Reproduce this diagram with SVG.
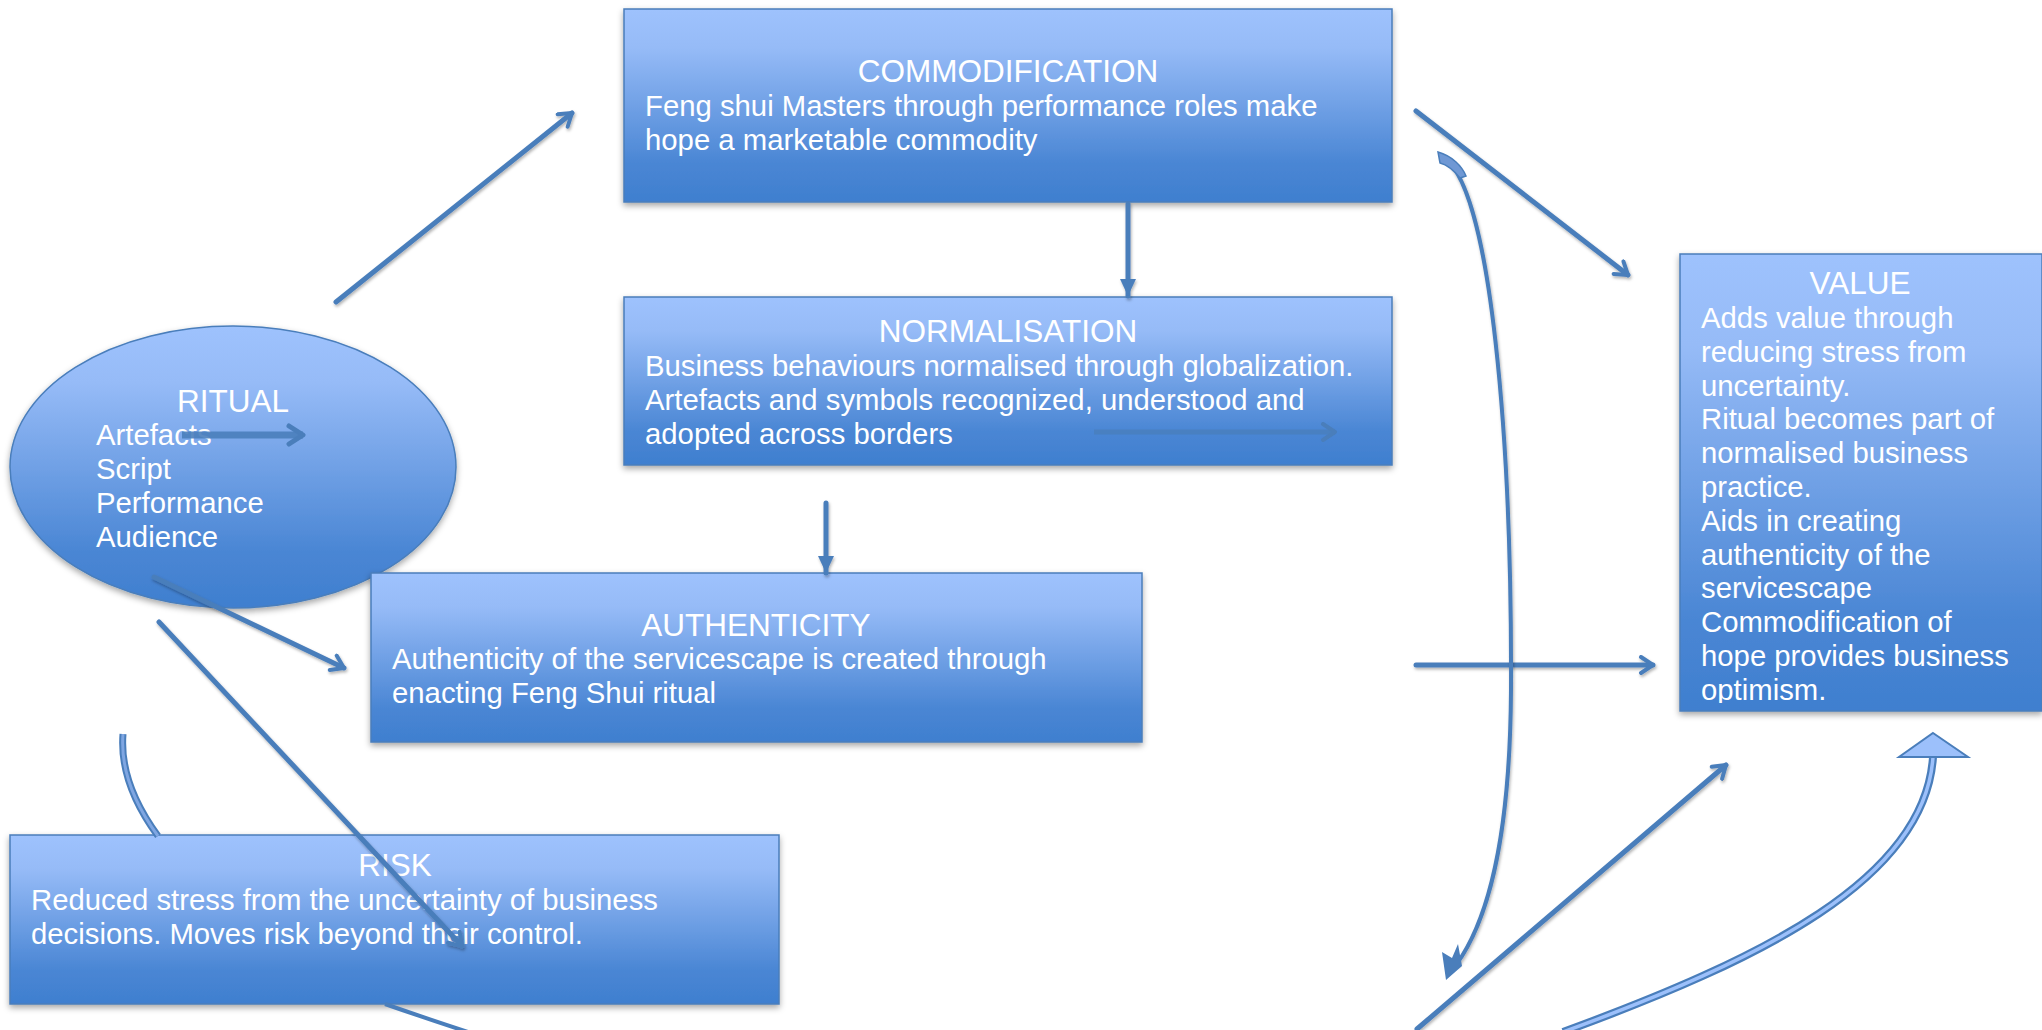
<svg xmlns="http://www.w3.org/2000/svg" width="2042" height="1030" viewBox="0 0 2042 1030">
<defs>
<linearGradient id="gBox" x1="0" y1="0" x2="0" y2="1">
<stop offset="0" stop-color="#9ec2fd"/>
<stop offset="0.2" stop-color="#96bbf7"/>
<stop offset="0.8" stop-color="#4a86d4"/>
<stop offset="1" stop-color="#3f7fcf"/>
</linearGradient>
<filter id="sh" x="-5%" y="-5%" width="110%" height="115%">
<feDropShadow dx="0" dy="3" stdDeviation="3" flood-color="#000" flood-opacity="0.35"/>
</filter>
<filter id="lsh" filterUnits="userSpaceOnUse" x="0" y="0" width="2042" height="1030">
<feDropShadow dx="1" dy="2" stdDeviation="1.5" flood-color="#000" flood-opacity="0.3"/>
</filter>
<marker id="chev" viewBox="0 0 20 20" refX="16" refY="10" markerWidth="20" markerHeight="20" markerUnits="userSpaceOnUse" orient="auto">
<path d="M4,2 L16,10 L4,18" fill="none" stroke="#4a7ebb" stroke-width="4" stroke-linecap="round" stroke-linejoin="round"/>
</marker>
<marker id="chevB" viewBox="0 0 24 24" refX="19" refY="12" markerWidth="24" markerHeight="24" markerUnits="userSpaceOnUse" orient="auto">
<path d="M5,3 L19,12 L5,21" fill="none" stroke="#4a7ebb" stroke-width="5" stroke-linecap="round" stroke-linejoin="round"/>
</marker>
<marker id="tri" viewBox="0 0 20 20" refX="19" refY="10" markerWidth="20" markerHeight="20" markerUnits="userSpaceOnUse" orient="auto">
<path d="M2,2 L19,10 L2,18 Z" fill="#4a7ebb"/>
</marker>
<clipPath id="clipValue"><rect x="1680" y="254" width="362" height="449"/></clipPath>
</defs>
<style>
.box{fill:url(#gBox);stroke:#4a7ebb;stroke-width:1.5;filter:url(#sh)}
.t{font-family:"Liberation Sans",Arial,sans-serif;fill:#fff}
.title{font-size:31.5px;text-anchor:middle}
.body{font-size:29.3px}
.ln{fill:none;stroke:#4a7ebb;stroke-width:5;stroke-linecap:round;filter:url(#lsh)}
</style>
<rect width="2042" height="1030" fill="#fff"/>

<g id="node-ritual">
<ellipse cx="233" cy="467" rx="223" ry="141" class="box"/>
<text class="t title" x="233" y="412">RITUAL</text>
<text class="t body" x="96" y="445">Artefacts</text>
<text class="t body" x="96" y="479">Script</text>
<text class="t body" x="96" y="513">Performance</text>
<text class="t body" x="96" y="547">Audience</text>
<line x1="182" y1="435" x2="303" y2="435" stroke="#4a7ebb" stroke-width="7" stroke-opacity="0.9" marker-end="url(#chevB)"/>
</g>

<g id="node-commodification">
<rect x="624" y="9" width="768" height="193" class="box"/>
<text class="t title" x="1008" y="82">COMMODIFICATION</text>
<text class="t body" x="645" y="116">Feng shui Masters through performance roles make</text>
<text class="t body" x="645" y="150">hope a marketable commodity</text>
</g>

<g id="node-normalisation">
<rect x="624" y="297" width="768" height="168" class="box"/>
<text class="t title" x="1008" y="342">NORMALISATION</text>
<text class="t body" x="645" y="376">Business behaviours normalised through globalization.</text>
<text class="t body" x="645" y="410">Artefacts and symbols recognized, understood and</text>
<text class="t body" x="645" y="444">adopted across borders</text>
<line x1="1094" y1="432" x2="1335" y2="432" stroke="#4a7ebb" stroke-width="5" stroke-opacity="0.8" marker-end="url(#chev)"/>
</g>

<g id="node-authenticity">
<rect x="371" y="573" width="771" height="169" class="box"/>
<text class="t title" x="756" y="636">AUTHENTICITY</text>
<text class="t body" x="392" y="669">Authenticity of the servicescape is created through</text>
<text class="t body" x="392" y="703">enacting Feng Shui ritual</text>
</g>

<g id="node-risk">
<rect x="10" y="835" width="769" height="169" class="box"/>
<text class="t title" x="395" y="876">RISK</text>
<text class="t body" x="31" y="910">Reduced stress from the uncertainty of business</text>
<text class="t body" x="31" y="944">decisions. Moves risk beyond their control.</text>
</g>

<g id="node-value">
<rect x="1680" y="254" width="362" height="457" class="box"/>
<text class="t title" x="1860" y="294">VALUE</text>
<g clip-path="url(#clipValue)">
<text class="t body" x="1701" y="328">Adds value through</text>
<text class="t body" x="1701" y="362">reducing stress from</text>
<text class="t body" x="1701" y="396">uncertainty.</text>
<text class="t body" x="1701" y="429">Ritual becomes part of</text>
<text class="t body" x="1701" y="463">normalised business</text>
<text class="t body" x="1701" y="497">practice.</text>
<text class="t body" x="1701" y="531">Aids in creating</text>
<text class="t body" x="1701" y="565">authenticity of the</text>
<text class="t body" x="1701" y="598">servicescape</text>
<text class="t body" x="1701" y="632">Commodification of</text>
<text class="t body" x="1701" y="666">hope provides business</text>
<text class="t body" x="1701" y="700">optimism.</text>
</g>
</g>

<g id="connectors">
<line class="ln" x1="336" y1="302" x2="572" y2="113" marker-end="url(#chev)"/>
<line class="ln" x1="1128" y1="204" x2="1128" y2="296" marker-end="url(#tri)"/>
<line class="ln" x1="826" y1="503" x2="826" y2="573" marker-end="url(#tri)"/>
<line class="ln" x1="1416" y1="111" x2="1628" y2="275" marker-end="url(#chev)"/>
<line class="ln" x1="1416" y1="665" x2="1653" y2="665" marker-end="url(#chev)"/>
<line class="ln" x1="154" y1="577" x2="344" y2="668" marker-end="url(#chev)"/>
<line class="ln" x1="159" y1="622" x2="462" y2="946" marker-end="url(#chev)"/>
<line class="ln" x1="1417" y1="1029" x2="1726" y2="765" marker-end="url(#chev)"/>
<path d="M1440,156 C1492,176 1512,450 1511,690 C1510,850 1485,925 1456,965" fill="none" stroke="#4a7ebb" stroke-width="4" filter="url(#lsh)"/>
<path d="M1438,152 C1452,156 1462,166 1466,176 L1460,178 C1452,168 1444,164 1440,163 Z" fill="#6f98d4" stroke="#4a7ebb" stroke-width="1.5"/>
<path d="M1446,980 L1442,952 L1452,958 L1458,944 L1462,966 Z" fill="#4a7ebb"/>
<path d="M1563,1032 C1760,960 1925,880 1933,757" fill="none" stroke="#4a7ebb" stroke-width="8"/>
<path d="M1563,1032 C1760,960 1925,880 1933,757" fill="none" stroke="#9cc0fb" stroke-width="3.5"/>
<path d="M1933,733 L1968,757 L1899,757 Z" fill="#9cc0fb" stroke="#4a7ebb" stroke-width="2"/>
<path d="M123,734 C120,772 136,806 158,836" fill="none" stroke="#4a7ebb" stroke-width="7"/>
<path d="M123,734 C120,772 136,806 158,836" fill="none" stroke="#7fa6e2" stroke-width="3"/>
<path d="M385,1004 Q425,1018 468,1032" fill="none" stroke="#4a7ebb" stroke-width="4"/>
</g>
</svg>
